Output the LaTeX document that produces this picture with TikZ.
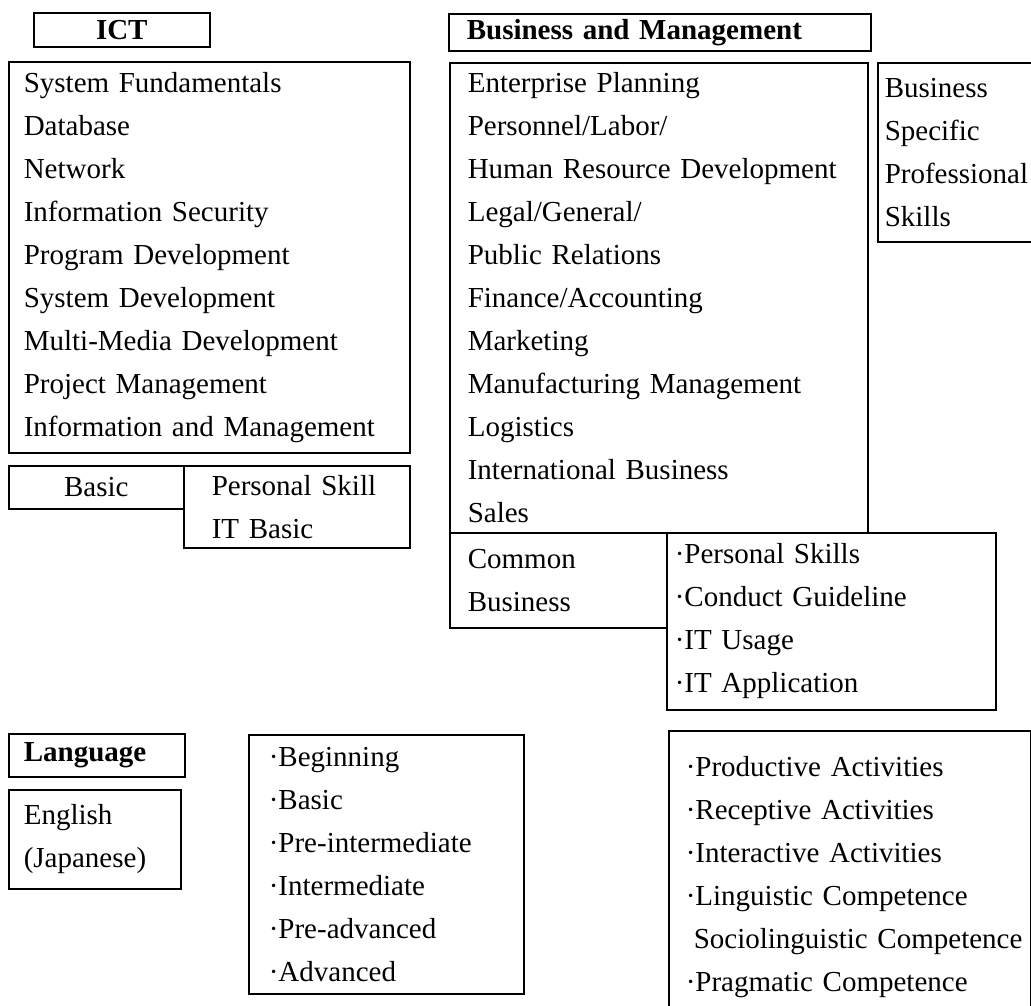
\documentclass[tikz,border=0pt]{standalone}
\usepackage{fontspec}
\setmainfont{Liberation Serif}[WordSpace=1.65]
\newfontfamily\headfont{Liberation Serif}
\usepackage{tikz}

\begin{document}
\begin{tikzpicture}[x=1pt, y=-1pt,
    box/.style={draw, line width=1.6pt, anchor=north west, inner ysep=0pt, align=left,
        font=\fontsize{29}{43}\selectfont},
    headbox/.style={box, font=\headfont\bfseries\fontsize{29}{35}\selectfont}]
    \useasboundingbox (0,0) rectangle (1031,1006);

    % ICT
    \node[headbox, align=center, text width=176pt, inner xsep=0pt, minimum height=34pt] (ictHead) at (33,12) {ICT};
    \node[box, text width=371pt, inner xsep=15pt, minimum height=391pt] (ictList) at (8,61)
        {System Fundamentals\\Database\\Network\\Information Security\\Program Development\\
         System Development\\Multi-Media Development\\Project Management\\Information and Management};
    \node[box, align=center, text width=175pt, inner xsep=0pt, minimum height=43pt] (ictBasic) at (8,465) {Basic};
    \node[box, text width=170pt, inner xsep=28pt, minimum height=82pt] (ictBasicItems) at (183,465)
        {Personal Skill\\IT Basic};

    % Business and Management
    \node[headbox, text width=386pt, inner xsep=18pt, minimum height=37pt] (bizHead) at (448,13) {Business and Management};
    \node[box, text width=382pt, inner xsep=18pt, minimum height=470pt] (bizList) at (449,62)
        {Enterprise Planning\\Personnel/Labor/\\Human Resource Development\\Legal/General/\\Public Relations\\
         Finance/Accounting\\Marketing\\Manufacturing Management\\Logistics\\International Business\\Sales};
    \node[box, text width=160pt, inner xsep=7pt, minimum height=179pt] (bizSpecific) at (877,62)
        {Business\\Specific\\Professional\\Skills};
    \node[box, text width=181pt, inner xsep=18pt, minimum height=95pt] (bizCommon) at (449,532)
        {Common\\Business};
    \node[box, text width=313pt, inner xsep=8pt, minimum height=177pt] (bizCommonItems) at (666,532)
        {·Personal Skills\\·Conduct Guideline\\·IT Usage\\·IT Application};

    % Language
    \node[headbox, text width=146pt, inner xsep=15pt, minimum height=43pt] (langHead) at (8,733) {Language};
    \node[box, text width=142pt, inner xsep=15pt, minimum height=99pt] (langName) at (8,789)
        {English\\(Japanese)};
    \node[box, text width=235pt, inner xsep=20pt, minimum height=259pt] (langLevels) at (248,734)
        {·Beginning\\·Basic\\·Pre-intermediate\\·Intermediate\\·Pre-advanced\\·Advanced};
    \node[box, text width=328pt, inner xsep=17pt, minimum height=292pt] (langSkills) at (668,730)
        {·Productive Activities\\·Receptive Activities\\·Interactive Activities\\·Linguistic Competence\\
         \hspace*{8pt}\mbox{Sociolinguistic Competence}\\·Pragmatic Competence};
\end{tikzpicture}
\end{document}
